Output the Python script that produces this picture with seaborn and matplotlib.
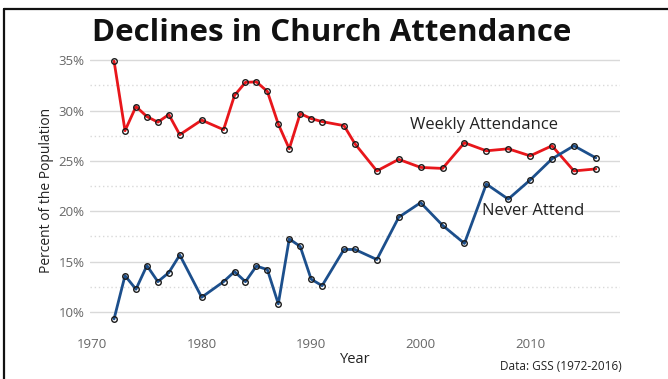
import matplotlib
matplotlib.use("Agg")
import matplotlib.pyplot as plt
from matplotlib.lines import Line2D
from matplotlib.ticker import MultipleLocator, FuncFormatter
import seaborn as sns
import pandas as pd

years = [1972, 1973, 1974, 1975, 1976, 1977, 1978, 1980,
         1982, 1983, 1984, 1985, 1986, 1987, 1988, 1989, 1990, 1991,
         1993, 1994, 1996, 1998, 2000, 2002, 2004, 2006, 2008, 2010,
         2012, 2014, 2016]
weekly = [34.9, 28.0, 30.4, 29.4, 28.85, 29.6, 27.6, 29.05,
          28.1, 31.5, 32.8, 32.85, 31.9, 28.65, 26.2, 29.7, 29.2, 28.9,
          28.5, 26.7, 24.0, 25.15, 24.35, 24.25, 26.8, 26.0, 26.2, 25.5,
          26.5, 24.0, 24.2]
never = [9.3, 13.6, 12.25, 14.6, 13.0, 13.9, 15.65, 11.45,
         13.0, 14.0, 13.0, 14.55, 14.2, 10.8, 17.25, 16.5, 13.25, 12.6,
         16.2, 16.2, 15.2, 19.4, 20.85, 18.6, 16.8, 22.7, 21.2, 23.1,
         25.2, 26.5, 25.3]
series_names = ["Weekly Attendance", "Never Attend"]
series_colors = ["#e8161b", "#1c4f8c"]

df = pd.concat([
    pd.DataFrame({"Year": years, "Percent": weekly, "Series": series_names[0]}),
    pd.DataFrame({"Year": years, "Percent": never, "Series": series_names[1]}),
])

sns.set_theme(style="white")
plt.rcParams["font.family"] = ["Open Sans", "DejaVu Sans"]

fig = plt.figure(figsize=(6.68, 3.79), dpi=100)
ax = fig.add_axes([0.1347, 0.124, 0.7933, 0.749])

sns.lineplot(data=df, x="Year", y="Percent", hue="Series",
             palette=dict(zip(series_names, series_colors)),
             linewidth=2.0, marker="o", markersize=4.0,
             markerfacecolor="none", markeredgecolor="#1a1a1a",
             markeredgewidth=1.0, legend=False, ax=ax)

ax.set_xlim(1969.8, 2018.2)
ax.set_ylim(8.0, 36.2)
ax.xaxis.set_major_locator(MultipleLocator(10))
ax.yaxis.set_major_locator(MultipleLocator(5))
ax.yaxis.set_minor_locator(MultipleLocator(2.5))
ax.yaxis.set_major_formatter(FuncFormatter(lambda v, p: f"{v:.0f}%"))

ax.grid(axis="y", which="major", color="#d9d9d9", linewidth=1.0)
ax.grid(axis="y", which="minor", color="#d9d9d9", linewidth=1.0,
        linestyle=(0, (1, 2)))
ax.grid(axis="x", visible=False)
for s in ax.spines.values():
    s.set_visible(False)

ax.tick_params(axis="both", which="major", length=2, width=0.8,
               color="#bbbbbb", labelsize=9.5, labelcolor="#666666", pad=2)
ax.tick_params(axis="y", which="minor", length=0)

ax.set_xlabel("Year", fontsize=10.5, color="#222222", labelpad=1)
ax.set_ylabel("Percent of the Population", fontsize=10, color="#222222",
              labelpad=3)

ax.text(1999.05, 28.55, "Weekly Attendance", fontsize=12,
        color="#222222", ha="left", va="center")
ax.text(2005.6, 20.0, "Never Attend", fontsize=12,
        color="#222222", ha="left", va="center")

fig.text(0.497, 0.914, "Declines in Church Attendance", fontsize=22.5,
         fontweight="bold", color="#111111", ha="center", va="center")
fig.text(0.931, 0.034, "Data: GSS (1972-2016)", fontsize=8.5,
         color="#222222", ha="right", va="center")

# frame lines along the top and left edges
fig.add_artist(Line2D([0.006, 1.0], [0.975, 0.975], color="#111111",
                      linewidth=1.6, transform=fig.transFigure))
fig.add_artist(Line2D([0.006, 0.006], [0.0, 0.975], color="#111111",
                      linewidth=1.6, transform=fig.transFigure))

fig.savefig("out.png", dpi=100)
